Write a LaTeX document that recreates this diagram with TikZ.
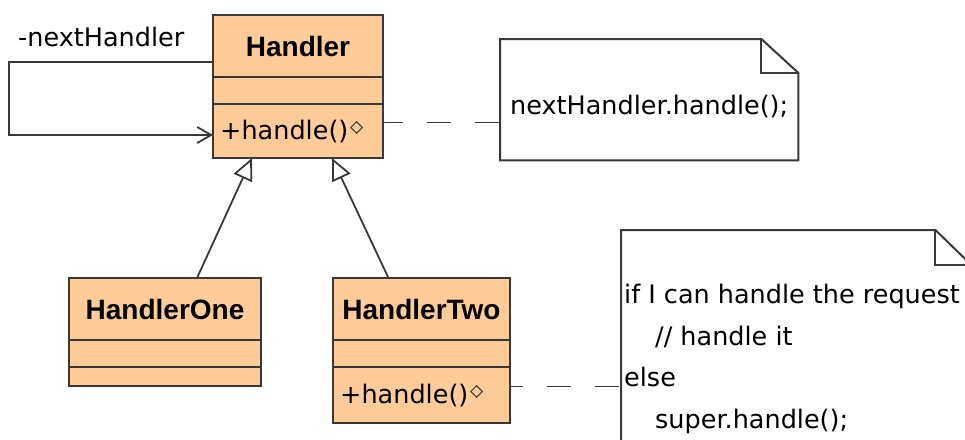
\documentclass[tikz,border=0pt]{standalone}
\usepackage{fontspec}
\setmainfont{DejaVu Sans}
\newfontfamily\namefont{Liberation Sans}
\usetikzlibrary{positioning,shapes.geometric,arrows.meta}

\definecolor{classfill}{RGB}{255,204,153}
\definecolor{umlline}{RGB}{56,56,56}
\newcommand{\umltext}{\fontsize{25.5}{41.7}\selectfont}
\newcommand{\umlname}{\namefont\bfseries\fontsize{28}{34}\selectfont}

\tikzset{
  compart/.style={draw=umlline, fill=classfill, line width=2pt,
    minimum width=#1, inner sep=0pt, outer sep=0pt},
  classname/.style={compart=#1, minimum height=62pt, font=\umlname},
  optext/.style={inner sep=0pt, font=\umltext},
  opmark/.style={diamond, draw=umlline, line width=1pt, inner sep=0pt,
    minimum width=12pt, minimum height=12pt},
  notebody/.style={inner sep=0pt, font=\umltext},
  noteline/.style={draw=umlline, line width=2pt},
  inherit/.style={draw=umlline, line width=1.8pt,
    -{Triangle[open,length=22pt,width=20pt]}},
  assoc/.style={draw=umlline, line width=1.8pt,
    -{Straight Barb[length=14pt,width=16pt]}},
  notelink/.style={draw=umlline, line width=1.8pt, dash pattern=on 24pt off 24pt},
}

\begin{document}
\begin{tikzpicture}[x=1pt, y=-1pt]
    \useasboundingbox (0,0) rectangle (965,439);
    \clip (0,0) rectangle (965,439);

    % Handler
    \node (hname) [classname=170pt, anchor=north west] at (213,15) {Handler};
    \node (hattr) [compart=170pt, minimum height=27pt, below=0pt of hname] {};
    \node (hmeth) [compart=170pt, minimum height=54pt, below=0pt of hattr] {};
    \node (hop) [optext, right=7pt of hmeth.west] {+handle()};
    \node (hmark) [opmark] at ([xshift=8pt, yshift=-8pt]hop.north east) {};
    \coordinate (hlink) at ([yshift=5pt]hmark.center);

    % HandlerOne
    \node (onename) [classname=192pt, anchor=north west] at (69,278) {HandlerOne};
    \node (oneattr) [compart=192pt, minimum height=27pt, below=0pt of onename] {};
    \node (onemeth) [compart=192pt, minimum height=19pt, below=0pt of oneattr] {};

    % HandlerTwo
    \node (twoname) [classname=177pt, anchor=north west] at (333,278) {HandlerTwo};
    \node (twoattr) [compart=177pt, minimum height=27pt, below=0pt of twoname] {};
    \node (twometh) [compart=177pt, minimum height=56pt, below=0pt of twoattr] {};
    \node (twoop) [optext, right=7pt of twometh.west] {+handle()};
    \node (twomark) [opmark] at ([xshift=8pt, yshift=-8pt]twoop.north east) {};
    \coordinate (twolink) at ([yshift=5pt]twomark.center);

    % Notes
    \node (note1) [notebody, minimum width=298pt, minimum height=121pt,
      text height=35pt, text depth=6pt, anchor=north west] at (500,39)
      {nextHandler.handle();};
    \draw[noteline] (note1.north west) -- ([xshift=-37pt]note1.north east)
      -- ([yshift=-34pt]note1.north east) -- (note1.south east)
      -- (note1.south west) -- cycle;
    \draw[noteline] ([xshift=-37pt]note1.north east) |- ([yshift=-34pt]note1.north east);

    \node (note2) [notebody, minimum width=350pt, minimum height=250pt,
      anchor=north west] at (621,230) {};
    \draw[noteline] (note2.north west) -- ([xshift=-36pt]note2.north east)
      -- ([yshift=-35pt]note2.north east) -- (note2.south east)
      -- (note2.south west) -- cycle;
    \draw[noteline] ([xshift=-36pt]note2.north east) |- ([yshift=-35pt]note2.north east);
    \node (note2txt) [notebody, anchor=north west, align=left] at (624,284)
      {if I can handle the request\\\hspace*{31pt}// handle it\\else\\\hspace*{31pt}super.handle();};

    % Connectors
    \node (nextlbl) [optext, anchor=base west] at (18,46) {-nextHandler};
    \draw[assoc] ([yshift=-16pt]hname.west) -- ++(-204,0) |- ([yshift=-4pt]hmeth.west);
    \draw[inherit] ([xshift=32pt]onename.north) -- ([xshift=-46pt]hmeth.south);
    \draw[inherit] ([xshift=-33pt]twoname.north) -- ([xshift=34pt]hmeth.south);
    \draw[notelink, dash phase=4pt] (hlink -| hmeth.east) -- (hlink -| note1.west);
    \draw[notelink, dash phase=11pt] (twolink -| twometh.east) -- (twolink -| note2.west);
\end{tikzpicture}
\end{document}
